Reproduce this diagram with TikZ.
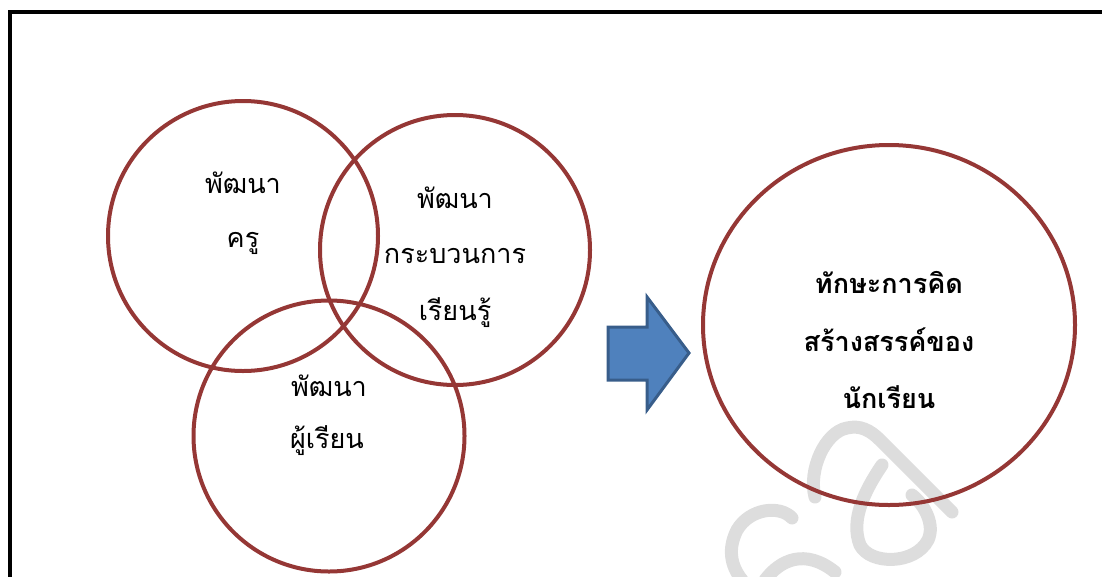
\documentclass[tikz,border=0pt]{standalone}
\usepackage{fontspec}
\usetikzlibrary{shapes.geometric}
\newfontfamily\thaifont[Script=Thai]{Loma}
\definecolor{ringred}{HTML}{953735}
\definecolor{arrowfill}{HTML}{4F81BD}
\definecolor{arrowline}{HTML}{385D8A}
\definecolor{wmark}{HTML}{DDDDDD}
\tikzset{
  ring/.style={draw=ringred, line width=4pt, circle, inner sep=0pt},
  thaitext/.style={font=\thaifont\fontsize{27}{30}\selectfont, inner sep=0pt},
  boldtext/.style={font=\thaifont\bfseries\fontsize{27}{30}\selectfont, inner sep=0pt},
  blockarrow/.style={fill=arrowfill, draw=arrowline, line width=3pt, line join=miter}
}
\begin{document}
\begin{tikzpicture}[x=1pt,y=-1pt]
  \useasboundingbox (0,0) rectangle (1102,576);
  % watermark
  \draw[wmark, line width=13pt, line cap=round]
    (815,497) .. controls (808,470) and (825,432) .. (847,428)
    .. controls (860,425) and (870,430) .. (880,440) -- (952,512);
  \draw[wmark, line width=13pt, line cap=round]
    (882,465) .. controls (865,490) and (850,520) .. (860,545)
    .. controls (870,565) and (915,565) .. (928,540)
    .. controls (935,525) and (925,505) .. (912,495);
  \draw[wmark, line width=13pt, line cap=round]
    (792,518) .. controls (780,505) and (750,508) .. (737,530)
    .. controls (728,548) and (730,565) .. (742,580);
  \draw[wmark, line width=13pt, line cap=round]
    (765,580) .. controls (780,560) and (805,548) .. (835,572);
  % frame
  \draw[line width=4pt] (10,590) -- (10,12) -- (1110,12);
  % three circles
  \node[ring, minimum size=270pt] (kru) at (243,236) {};
  \node[ring, minimum size=270pt] (process) at (455,250) {};
  \node[ring, minimum size=271pt] (learner) at (329,436) {};
  \node[thaitext] (kru1) at (243,183) {พัฒนา};
  \node[thaitext] (kru2) at (243,243) {ครู};
  \node[thaitext] (proc1) at (455,198) {พัฒนา};
  \node[thaitext] (proc2) at (455,256) {กระบวนการ};
  \node[thaitext] (proc3) at (455,313) {เรียนรู้};
  \node[thaitext] (lear1) at (329,386) {พัฒนา};
  \node[thaitext] (lear2) at (327,441) {ผู้เรียน};
  % arrow
  \draw[blockarrow] (608,327) -- (647,327) -- (647,297) -- (689,353)
    -- (647,410) -- (647,380) -- (608,380) -- cycle;
  % result
  \node[draw=ringred, line width=4pt, ellipse, inner sep=0pt,
    minimum width=372pt, minimum height=360pt] (skill) at (889,325) {};
  \node[boldtext] (skill1) at (889,282) {ทักษะการคิด};
  \node[boldtext] (skill2) at (889,340) {สร้างสรรค์ของ};
  \node[boldtext] (skill3) at (889,397) {นักเรียน};
\end{tikzpicture}
\end{document}
